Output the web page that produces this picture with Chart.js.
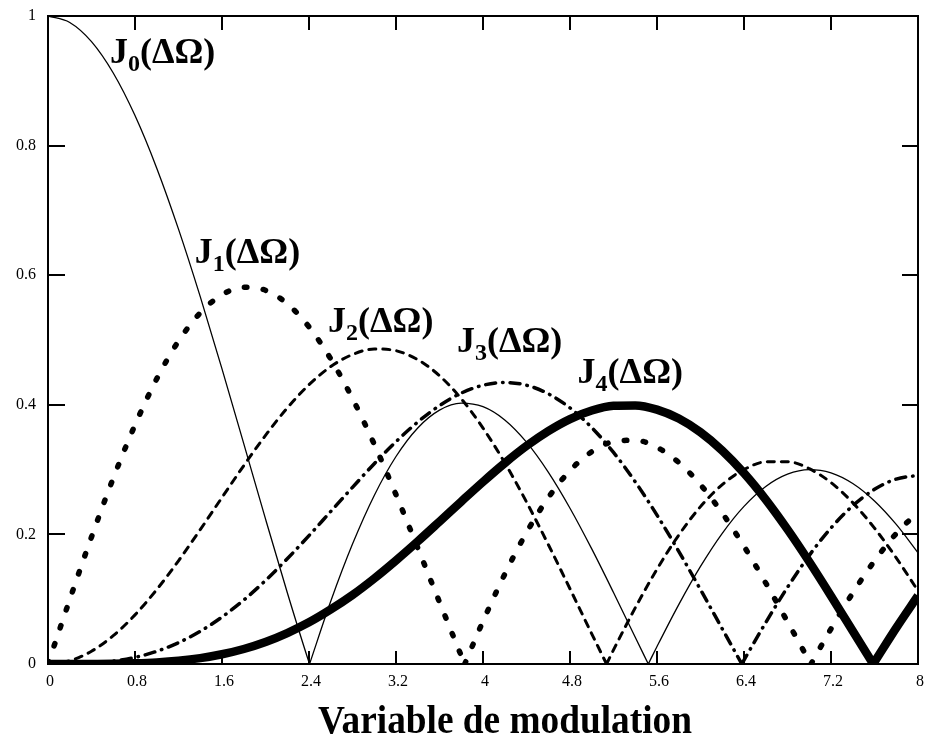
<!DOCTYPE html>
<html><head><meta charset="utf-8">
<script src="https://cdn.jsdelivr.net/npm/chart.js@4/dist/chart.umd.min.js"></script>
<style>html,body{margin:0;padding:0;background:#fff}#wrap{width:925px;height:736px;position:relative}</style>
</head><body><div id="wrap"><canvas id="c"></canvas></div>
<script>
// Modulation variable grid (x values)
const xGrid = [0,0.2,0.4,0.6,0.8,1.0,1.2,1.4,1.6,1.8,2.0,2.2,2.4,2.6,2.8,3.0,3.2,3.4,3.6,3.8,4.0,4.2,4.4,4.6,4.8,5.0,5.2,5.4,5.6,5.8,6.0,6.2,6.4,6.6,6.8,7.0,7.2,7.4,7.6,7.8,8.0];
// Magnitudes
const j0 = [1.0000,0.9900,0.9604,0.9120,0.8463,0.7652,0.6711,0.5669,0.4554,0.3400,0.2239,0.1104,0.0025,0.0968,0.1850,0.2601,0.3202,0.3643,0.3918,0.4026,0.3971,0.3766,0.3423,0.2961,0.2404,0.1776,0.1103,0.0412,0.0270,0.0917,0.1506,0.2017,0.2433,0.2740,0.2930,0.3001,0.2951,0.2786,0.2516,0.2154,0.1717];
const j1 = [0,0.0995,0.1960,0.2867,0.3688,0.4401,0.4983,0.5419,0.5699,0.5815,0.5767,0.5560,0.5202,0.4708,0.4097,0.3391,0.2613,0.1792,0.0955,0.0128,0.0660,0.1386,0.2028,0.2566,0.2985,0.3276,0.3432,0.3453,0.3343,0.3110,0.2767,0.2329,0.1816,0.1250,0.0652,0.0047,0.0543,0.1096,0.1592,0.2014,0.2346];
const j2 = [0,0.0050,0.0197,0.0437,0.0758,0.1149,0.1593,0.2074,0.2570,0.3061,0.3528,0.3951,0.4310,0.4590,0.4776,0.4861,0.4835,0.4697,0.4449,0.4093,0.3641,0.3106,0.2501,0.1845,0.1160,0.0466,0.0217,0.0867,0.1464,0.1989,0.2429,0.2768,0.3001,0.3119,0.3122,0.3014,0.2800,0.2490,0.2097,0.1638,0.1130];
const j3 = [0,0.0002,0.0013,0.0044,0.0102,0.0196,0.0329,0.0505,0.0725,0.0987,0.1289,0.1624,0.1981,0.2354,0.2726,0.3091,0.3431,0.3734,0.3988,0.4180,0.4302,0.4344,0.4302,0.4170,0.3952,0.3648,0.3265,0.2811,0.2297,0.1738,0.1148,0.0543,0.0060,0.0640,0.1184,0.1676,0.2099,0.2442,0.2696,0.2854,0.2911];
const j4 = [0,0.0000,0.0001,0.0003,0.0011,0.0025,0.0050,0.0090,0.0150,0.0232,0.0340,0.0478,0.0643,0.0842,0.1065,0.1320,0.1598,0.1892,0.2198,0.2507,0.2811,0.3100,0.3365,0.3594,0.3780,0.3912,0.3984,0.3990,0.3925,0.3787,0.3576,0.3293,0.2945,0.2537,0.2077,0.1578,0.1051,0.0510,0.0031,0.0557,0.1054];
// Where each curve touches zero
const zeros0 = [2.405,5.520];
const zeros1 = [3.832,7.016];
const zeros2 = [5.136];
const zeros3 = [6.380];
const zeros4 = [7.588];
// Series subscripts
const seriesSub = ['0','1','2','3','4'];
// Tick values and labels
const xTickValues = [0,0.8,1.6,2.4,3.2,4,4.8,5.6,6.4,7.2,8];
const xTickLabels = ['0','0.8','1.6','2.4','3.2','4','4.8','5.6','6.4','7.2','8'];
const yTickValues = [0,0.2,0.4,0.6,0.8,1];
const yTickLabels = ['0','0.2','0.4','0.6','0.8','1'];
const xTitle = 'Variable de modulation';

// curve label anchors (data space)
const labelAnchorX = [0.57,1.35,2.575,3.76,4.87];
const labelAnchorY = [0.927,0.619,0.512,0.481,0.434];

function buildPoints(vals, zeros){
  const pts = xGrid.map((x,i)=>({x:x,y:vals[i]}));
  zeros.forEach(z=>{ pts.push({x:z,y:0,_z:1},{x:z,y:null,_z:2},{x:z,y:0,_z:3}); });
  pts.sort((a,b)=> a.x-b.x || (a._z||0)-(b._z||0));
  return pts.map(p=>({x:p.x,y:p.y}));
}

const common = {pointRadius:0,pointHoverRadius:0,fill:false,cubicInterpolationMode:'monotone',spanGaps:false,clip:0,borderColor:'#000',borderCapStyle:'round',borderJoinStyle:'round'};
const datasets = [
  Object.assign({},common,{label:'J0',data:buildPoints(j0,zeros0),borderWidth:1.3,borderCapStyle:'butt'}),
  Object.assign({},common,{label:'J1',data:buildPoints(j1,zeros1),borderWidth:5.5,borderDash:[2.5,16.5]}),
  Object.assign({},common,{label:'J2',data:buildPoints(j2,zeros2),borderWidth:3,borderDash:[7,7]}),
  Object.assign({},common,{label:'J3',data:buildPoints(j3,zeros3),borderWidth:3.5,borderDash:[10,7,0.5,7]}),
  Object.assign({},common,{label:'J4',data:buildPoints(j4,zeros4),borderWidth:8.5,borderCapStyle:'butt'})
];

const frame = {
  id:'frame',
  afterDatasetsDraw(chart){
    const {ctx, chartArea:a, scales:{x,y}} = chart;
    ctx.save();
    ctx.strokeStyle='#000';
    ctx.lineWidth=2;
    ctx.strokeRect(a.left,a.top,a.right-a.left,a.bottom-a.top);
    ctx.beginPath();
    xTickValues.forEach(v=>{const px=Math.round(x.getPixelForValue(v)); ctx.moveTo(px,a.bottom); ctx.lineTo(px,a.bottom-13); ctx.moveTo(px,a.top); ctx.lineTo(px,a.top+14);});
    yTickValues.forEach(v=>{const py=Math.round(y.getPixelForValue(v)); ctx.moveTo(a.left,py); ctx.lineTo(a.left+17,py); ctx.moveTo(a.right,py); ctx.lineTo(a.right-16,py);});
    ctx.stroke();
    // curve labels
    ctx.fillStyle='#000';
    ctx.textBaseline='alphabetic';
    ctx.textAlign='left';
    seriesSub.forEach((s,i)=>{
      let px = x.getPixelForValue(labelAnchorX[i]);
      const py = y.getPixelForValue(labelAnchorY[i]);
      ctx.font='bold 36px "Liberation Serif"';
      ctx.fillText('J',px,py); px += ctx.measureText('J').width;
      ctx.font='bold 24px "Liberation Serif"';
      ctx.fillText(s,px,py+8); px += ctx.measureText(s).width;
      ctx.font='bold 36px "Liberation Serif"';
      ctx.fillText('(\u0394\u03A9)',px,py);
    });
    // axis title
    ctx.font='bold 41px "Liberation Serif"';
    ctx.textAlign='center';
    const cx = (x.getPixelForValue(xTickValues[0])+x.getPixelForValue(xTickValues[xTickValues.length-1]))/2 + 22;
    ctx.translate(cx, chart.height-3);
    ctx.scale(0.91,1);
    ctx.fillText(xTitle,0,0);
    ctx.restore();
  }
};

function noPad(s){s.paddingTop=0;s.paddingBottom=0;s.paddingLeft=0;s.paddingRight=0;}

new Chart(document.getElementById('c'),{
  type:'line',
  data:{datasets},
  options:{
    responsive:true,maintainAspectRatio:false,animation:false,
    layout:{padding:{top:16,right:7,left:0,bottom:0}},
    plugins:{legend:{display:false},tooltip:{enabled:false},title:{display:false}},
    scales:{
      x:{type:'linear',min:0,max:8,
        afterBuildTicks(s){s.ticks=xTickValues.map(v=>({value:v}));},
        afterFit(s){s.height=72;noPad(s);},
        ticks:{color:'#000',font:{family:'"Liberation Serif"',size:16},padding:8,labelOffset:2,maxRotation:0,autoSkip:false,
          callback:(v,i)=>xTickLabels[i]},
        grid:{display:false,drawTicks:false},border:{display:false}},
      y:{type:'linear',min:0,max:1,
        afterBuildTicks(s){s.ticks=yTickValues.map(v=>({value:v}));},
        afterFit(s){s.width=48;noPad(s);},
        ticks:{color:'#000',font:{family:'"Liberation Serif"',size:16},padding:12,
          callback:(v,i)=>yTickLabels[i]},
        grid:{display:false,drawTicks:false},border:{display:false}}
    }
  },
  plugins:[frame]
});
</script></body></html>
